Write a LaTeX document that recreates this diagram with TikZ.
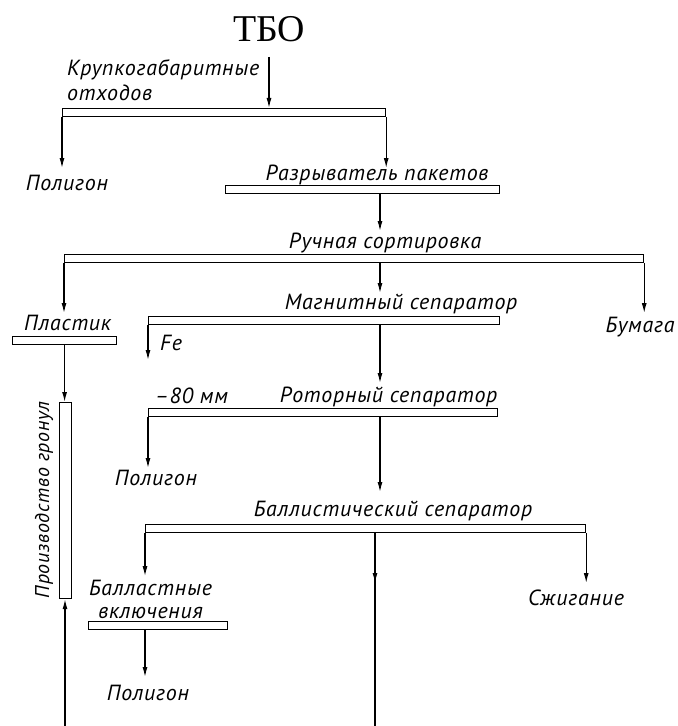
\documentclass[tikz,border=0pt]{standalone}
\usepackage{fontspec}
\newfontfamily\gostfont[LetterSpace=3.5]{PT Sans}
\newfontfamily\titlefont{Liberation Serif}
\usetikzlibrary{positioning,arrows.meta}
\tikzset{standard edge/.style={line width=1.2bp,-{Latex[length=10bp,width=5bp]}},
 plain edge/.style={line width=1.2bp}}

\begin{document}
\begin{tikzpicture}[x=1bp,y=-1bp,
 bar/.style={draw,line width=1.2bp,inner sep=0pt,minimum height=8bp,minimum width=#1bp,anchor=north west},
 lbl/.style={inner sep=0pt,font=\gostfont\itshape\fontsize{22}{23}\selectfont}]
\useasboundingbox (0,0) rectangle (678,726);

% bars
\node[bar=323] (bigbar) at (62,108) {};
\node[bar=274] (razbar) at (225,185) {};
\node[bar=579] (ruchbar) at (64,254) {};
\node[bar=351] (magbar) at (148,316) {};
\node[bar=104] (plastbar) at (12,336) {};
\node[bar=349] (rotbar) at (148,408) {};
\node[bar=440] (balbar) at (145,524) {};
\node[bar=139] (ballastbar) at (88,621) {};
\node[bar=12,minimum height=196bp] (prodbar) at (59,402) {};

\coordinate (spine) at (380,0);
\coordinate (bottomend) at (375,726);
\coordinate (feedin) at (65,726);

% labels
\node[inner sep=0pt,anchor=base,font=\titlefont\fontsize{38}{40}\selectfont] (tbo) at (269,42) {ТБО};
\node[lbl,anchor=north west,align=left,font=\gostfont\itshape\fontsize{22}{26}\selectfont] (krup) at (67,59) {Крупкогабаритные\\отходов};
\node[lbl,anchor=base] (pol1) at (67,190) {Полигон};
\node[lbl,above=5bp of razbar,anchor=base,xshift=14.5bp] (raz) {Разрыватель пакетов};
\node[lbl,above=6bp of ruchbar,anchor=base,xshift=31bp] (ruch) {Ручная сортировка};
\node[lbl,above=6bp of plastbar,anchor=base,xshift=3bp] (plast) {Пластик};
\node[lbl,above=7bp of magbar,anchor=base,xshift=77bp] (mag) {Магнитный сепаратор};
\node[lbl,anchor=base] (bum) at (640,332) {Бумага};
\node[lbl,anchor=base west] (fe) at (160,350) {Fe};
\node[lbl,above right=5bp and 7bp of rotbar.north west,anchor=base west] (minus80) {–80 мм};
\node[lbl,above=6bp of rotbar,anchor=base,xshift=65.5bp] (rot) {Роторный сепаратор};
\node[lbl,anchor=base] (pol2) at (156,485) {Полигон};
\node[lbl,above=8bp of balbar,anchor=base,xshift=27.5bp] (bal) {Баллистический сепаратор};
\node[lbl,above=2bp of ballastbar,align=center,xshift=-7.5bp] (balv) {Балластные\\включения};
\node[lbl,anchor=base] (szh) at (576,605) {Сжигание};
\node[lbl,anchor=base] (pol3) at (148,700) {Полигон};
\node[lbl,anchor=base,rotate=90,font=\gostfont\itshape\fontsize{20}{22}\selectfont] (prod) at (49,500) {Производство гронул};

\draw[standard edge,shorten <=15bp] (tbo.base) -- (tbo.base |- bigbar.north);
\draw[standard edge,shorten >=22bp] (bigbar.south west) -- (bigbar.south west |- pol1.base);
\draw[standard edge,shorten >=12bp] (bigbar.south east) -- (bigbar.south east |- raz.base);
\draw[standard edge,shorten >=17bp] (razbar.south -| spine) -- (spine |- ruch.base);
\draw[standard edge,shorten >=17bp] (ruchbar.south west) -- (ruchbar.south west |- plast.base);
\draw[standard edge,shorten >=16bp] (ruchbar.south -| spine) -- (spine |- mag.base);
\draw[standard edge,shorten >=19bp] (ruchbar.south east) -- (ruchbar.south east |- bum.base);
\draw[standard edge,shorten >=-10bp] (magbar.south west) -- (magbar.south west |- fe.base);
\draw[standard edge,shorten >=19bp] (magbar.south -| spine) -- (spine |- rot.base);
\draw[standard edge] (plastbar.south) -- (plastbar.south |- prodbar.north);
\draw[standard edge,shorten >=17bp] (rotbar.south west) -- (rotbar.south west |- pol2.base);
\draw[standard edge,shorten >=24bp] (rotbar.south -| spine) -- (spine |- bal.base);
\draw[standard edge,shorten >=4bp] (balbar.south west) -- (balbar.south west |- balv.north);
\draw[plain edge] (balbar.south -| bottomend) -- (bottomend);
\draw[standard edge,shorten >=22bp] (balbar.south -| bottomend) -- (bottomend |- szh.base);
\draw[standard edge,shorten >=22bp] (balbar.south east) -- (balbar.south east |- szh.base);
\draw[standard edge,shorten >=23bp] (ballastbar.south -| balbar.west) -- (balbar.west |- pol3.base);
\draw[standard edge] (feedin) -- (feedin |- prodbar.south);
\end{tikzpicture}
\end{document}
